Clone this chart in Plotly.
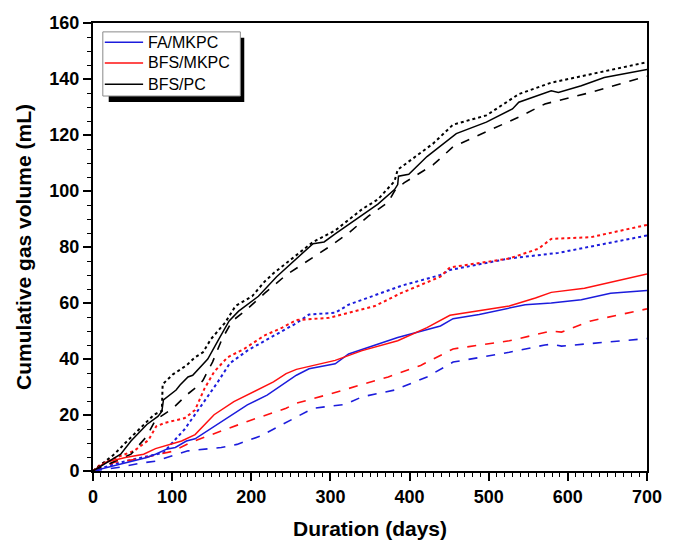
import plotly.graph_objects as go

# ---------------- data ----------------
# FA/MKPC (blue)
fa_solid_days = [0, 27, 48, 68, 79, 93, 104, 118, 129, 145, 170, 195, 220, 244, 257, 273, 306, 323, 385, 439, 455, 488, 546, 579, 617, 654, 700]
fa_solid_vals = [0, 1.9, 3.4, 4.8, 6, 7.8, 8.4, 10.7, 11.5, 14.5, 18.9, 23.6, 27.1, 31.8, 34.2, 36.5, 38.3, 41.8, 47.7, 51.8, 54.4, 55.9, 59.4, 60, 61.2, 63.5, 64.5]
fa_dot_days = [0, 27, 52, 89, 100, 116, 133, 157, 173, 195, 217, 244, 257, 273, 306, 323, 389, 439, 451, 526, 588, 700]
fa_dot_vals = [0, 2.5, 4.2, 6.5, 10, 15, 21.8, 31.5, 38.5, 43, 46.5, 50.6, 52.8, 55.9, 56.5, 59.4, 66.1, 70, 71.8, 75.9, 77.9, 84.1]
fa_dash_days = [0, 35, 60, 79, 101, 120, 162, 182, 211, 244, 257, 278, 319, 340, 381, 422, 455, 526, 571, 580, 592, 700]
fa_dash_vals = [0, 1.4, 2.8, 3.5, 5.5, 7.2, 8.4, 9.5, 12.4, 17.2, 19.1, 22.4, 23.8, 26.5, 28.9, 33.6, 38.9, 42.4, 45, 45.3, 44.6, 47.3]

# BFS/MKPC (red)
bm_solid_days = [0, 16, 41, 64, 79, 89, 112, 129, 153, 178, 203, 228, 244, 257, 306, 340, 385, 422, 451, 488, 526, 559, 579, 621, 700]
bm_solid_vals = [0, 3.1, 4.8, 6, 8, 8.9, 10.7, 13, 20.1, 24.8, 28.3, 31.8, 34.8, 36.3, 39.5, 43, 46.5, 51.2, 55.6, 57.1, 58.9, 61.8, 63.8, 65.3, 70.4]
bm_dot_days = [0, 10, 35, 52, 70, 80, 91, 116, 129, 141, 153, 170, 191, 216, 239, 257, 298, 356, 389, 439, 451, 526, 563, 579, 629, 700]
bm_dot_vals = [0, 2.5, 5.4, 7.2, 11, 16, 17.2, 18.9, 21.8, 29.5, 35.4, 40.6, 43.6, 48.3, 51.2, 53.9, 54.7, 58.9, 63.5, 69.4, 72.7, 75.9, 79.4, 82.9, 83.5, 87.9]
bm_dash_days = [0, 27, 56, 77, 100, 126, 162, 195, 244, 257, 298, 331, 373, 414, 455, 526, 579, 592, 629, 700]
bm_dash_vals = [0, 3.1, 4.2, 5.5, 7, 10.5, 14.2, 17.7, 22.4, 24.2, 27.4, 30.1, 33.6, 37.7, 43.6, 46.5, 50, 49.6, 53.6, 57.9]

# BFS/PC (black)
bp_solid_days = [0, 35, 48, 68, 82, 87, 89, 105, 110, 120, 126, 145, 159, 172, 184, 209, 232, 278, 292, 306, 360, 381, 385, 386, 399, 422, 459, 497, 530, 538, 579, 588, 617, 646, 700]
bp_solid_vals = [0, 6, 10.7, 16.6, 19.5, 21.3, 25.4, 28.9, 30.7, 33.6, 34.2, 40, 47.1, 53.6, 57.1, 62.4, 69.4, 81.2, 81.8, 84.7, 95.3, 100.5, 102.3, 105.3, 106, 112.3, 120.5, 124.6, 129.3, 131.7, 135.8, 135.2, 137.6, 140.5, 143.4]
bp_dot_days = [0, 27, 39, 60, 77, 87, 88, 101, 118, 129, 139, 149, 167, 180, 201, 217, 228, 278, 306, 340, 360, 381, 385, 430, 455, 497, 538, 579, 629, 700]
bp_dot_vals = [0, 6, 9.5, 15.4, 20.1, 21.5, 31, 34.5, 37.7, 40.6, 42.4, 47.1, 53, 58.9, 62.4, 67.7, 70.6, 81.8, 85.9, 93.5, 97, 103.5, 107.6, 117, 123.7, 127, 134.6, 138.7, 141.7, 146]
bp_dash_days = [0, 48, 68, 79, 91, 101, 118, 134, 139, 151, 163, 176, 192, 217, 244, 298, 323, 348, 373, 381, 393, 430, 455, 488, 538, 571, 629, 700]
bp_dash_vals = [0, 6, 12.4, 18.3, 20.5, 22.4, 27.1, 30.7, 32.4, 38.9, 47.1, 53.6, 57.1, 63.5, 70, 80, 85, 91, 96, 100, 102.9, 109.4, 115.8, 119.9, 126.4, 131.1, 135.2, 141]

series_names = ["FA/MKPC", "BFS/MKPC", "BFS/PC"]
colors = ["#1c1cdc", "#ff1010", "#000000"]

groups = [
    (fa_solid_days, fa_solid_vals, fa_dot_days, fa_dot_vals, fa_dash_days, fa_dash_vals),
    (bm_solid_days, bm_solid_vals, bm_dot_days, bm_dot_vals, bm_dash_days, bm_dash_vals),
    (bp_solid_days, bp_solid_vals, bp_dot_days, bp_dot_vals, bp_dash_days, bp_dash_vals),
]

x_ticks = [0, 100, 200, 300, 400, 500, 600, 700]
y_ticks = [0, 20, 40, 60, 80, 100, 120, 140, 160]
x_title = "Duration (days)"
y_title = "Cumulative gas volume (mL)"

FONT = "Arial, Liberation Sans, sans-serif"

fig = go.Figure()
for name, col, g in zip(series_names, colors, groups):
    sd, sv, dd, dv, hd, hv = g
    fig.add_trace(go.Scatter(x=dd, y=dv, mode="lines", showlegend=False,
                             line=dict(color=col, width=2, dash="dot")))
    fig.add_trace(go.Scatter(x=hd, y=hv, mode="lines", showlegend=False,
                             line=dict(color=col, width=1.6, dash="dash")))
for name, col, g in zip(series_names, colors, groups):
    sd, sv = g[0], g[1]
    fig.add_trace(go.Scatter(x=sd, y=sv, mode="lines", name=name, showlegend=False,
                             line=dict(color=col, width=1.5)))

W, H = 674, 549
ml, mr, mt, mb = 93, 17, 23, 72
pw, ph = W - ml - mr, H - mt - mb

def px_x(p):
    return (p - ml) / pw

def px_y(p):
    return (H - mb - p) / ph

# ---- legend box with drop shadow (drawn as shapes + text) ----
fig.add_shape(type="rect", xref="paper", yref="paper",
              x0=px_x(109), x1=px_x(247), y0=px_y(103), y1=px_y(38),
              fillcolor="black", line=dict(width=0), layer="above")
fig.add_shape(type="rect", xref="paper", yref="paper",
              x0=px_x(103), x1=px_x(243), y0=px_y(97), y1=px_y(32),
              fillcolor="white", line=dict(color="#8a8a8a", width=1), layer="above")
row_y = [42.5, 63.5, 85]
for name, col, ry in zip(series_names, colors, row_y):
    fig.add_shape(type="line", xref="paper", yref="paper",
                  x0=px_x(105), x1=px_x(144), y0=px_y(ry), y1=px_y(ry),
                  line=dict(color=col, width=1.6), layer="above")
    fig.add_annotation(xref="paper", yref="paper", x=px_x(147), y=px_y(ry),
                       xanchor="left", yanchor="middle", showarrow=False,
                       text=name, font=dict(size=16, family=FONT, color="black"))

fig.update_layout(
    width=W, height=H,
    margin=dict(l=ml, r=mr, t=mt, b=mb),
    paper_bgcolor="white", plot_bgcolor="white",
    font=dict(family=FONT, color="black"),
    showlegend=False,
    xaxis=dict(range=[0, 700], tickvals=x_ticks, ticks="outside", ticklen=8, tickwidth=1.5,
               tickcolor="black", showline=True, linecolor="black", linewidth=2, mirror=True,
               showgrid=False, zeroline=False,
               tickfont=dict(size=18, family=FONT, weight="bold"),
               minor=dict(dtick=10, ticks="outside", ticklen=4, tickwidth=1, tickcolor="black", showgrid=False),
               title=dict(text=x_title, font=dict(size=21, family=FONT, weight="bold"), standoff=16)),
    yaxis=dict(range=[0, 160], tickvals=y_ticks, ticks="outside", ticklen=8, tickwidth=1.5,
               tickcolor="black", showline=True, linecolor="black", linewidth=2, mirror=True,
               showgrid=False, zeroline=False,
               tickfont=dict(size=18, family=FONT, weight="bold"),
               minor=dict(dtick=5, ticks="outside", ticklen=4, tickwidth=1, tickcolor="black", showgrid=False),
               title=dict(text=y_title, font=dict(size=21, family=FONT, weight="bold"), standoff=12)),
)

fig.write_html("out.html", config={"displayModeBar": False},
               post_script="document.body.style.margin='0px';")
